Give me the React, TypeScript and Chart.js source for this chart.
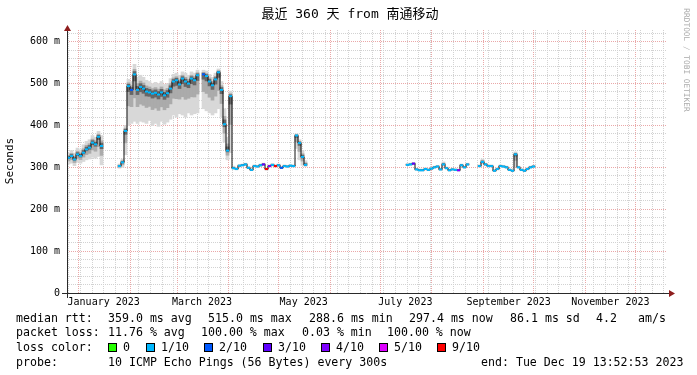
import React, { useEffect, useRef } from 'react';
import { Chart, registerables } from 'chart.js';

Chart.register(...registerables);

// ---------------- data ----------------
const STEP_DAYS = 1.8; // one sample every 1.8 days (3 px)
const SPAN_DAYS = 360;
const Y_MAX_MS = 628;

// median RTT (ms) per step, null = no data (100% loss)
const medianMs: (number | null)[] = [
  323, 327, 319, 331, 327, 335, 343, 347, 359, 355, 373, 351,
  null, null, null, null, null,
  303, 312, 387, 494, 485, 522, 485, 492, 488, 481, 479, 476, 478, 474, 479, 472, 477, 488, 505, 508, 498, 512, 505, 500, 512, 508, 520,
  null,
  522, 518, 505, 496, 510, 527, 485, 403, 340, 470, 298,
  296, 304, 305, 307, 299, 294, 303, 302, 305, 307, 296, 303, 306, 303, 305, 299, 303, 302, 304, 303, 376, 358, 325, 306,
  null, null, null, null, null, null, null, null, null, null, null, null, null, null, null, null, null, null, null, null, null, null, null, null, null, null, null, null, null, null, null, null, null,
  306, 307, 309, 295, 293, 293, 296, 294, 297, 300, 302, 295, 307, 298, 293, 295, 294, 293, 305, 300, 307,
  null, null, null,
  303, 313, 307, 303, 303, 292, 296, 303, 302, 300, 294, 292, 331, 300, 294, 292, 296, 300, 302,
  null, null, null, null, null, null, null, null, null, null, null, null, null, null, null, null, null, null, null, null, null, null,
  null, null, null, null, null, null, null, null, null, null, null, null, null, null, null, null, null, null, null, null, null, null,
];

// fastest ping of the smoke (ms)
const smokeLoMs: (number | null)[] = [
  308, 310, 304, 312, 310, 314, 318, 320, 324, 322, 326, 306,
  null, null, null, null, null,
  298, 300, 330, 400, 405, 410, 405, 410, 408, 405, 412, 400, 405, 398, 410, 403, 408, 415, 425, 420, 428, 425, 420, 430, 425, 428, 430,
  null,
  440, 435, 430, 425, 430, 440, 420, 360, 318, 335, 295,
  294, 301, 303, 304, 297, 292, 301, 300, 302, 304, 293, 301, 303, 301, 303, 297, 301, 300, 302, 301, 345, 318, 305, 302,
  null, null, null, null, null, null, null, null, null, null, null, null, null, null, null, null, null, null, null, null, null, null, null, null, null, null, null, null, null, null, null, null, null,
  304, 305, 306, 293, 291, 291, 294, 292, 295, 298, 300, 293, 303, 296, 291, 293, 292, 291, 302, 298, 304,
  null, null, null,
  301, 308, 304, 301, 301, 290, 294, 301, 300, 298, 292, 290, 302, 298, 292, 290, 294, 298, 300,
  null, null, null, null, null, null, null, null, null, null, null, null, null, null, null, null, null, null, null, null, null, null,
  null, null, null, null, null, null, null, null, null, null, null, null, null, null, null, null, null, null, null, null, null, null,
];

// slowest ping of the smoke (ms)
const smokeHiMs: (number | null)[] = [
  334, 340, 334, 346, 342, 354, 362, 366, 376, 372, 386, 376,
  null, null, null, null, null,
  308, 320, 400, 510, 505, 546, 515, 520, 515, 508, 505, 500, 503, 500, 505, 498, 500, 512, 522, 525, 520, 528, 525, 520, 528, 525, 532,
  null,
  532, 530, 522, 515, 525, 535, 505, 440, 372, 482, 303,
  300, 307, 308, 310, 302, 297, 306, 305, 308, 310, 299, 306, 309, 306, 308, 302, 306, 305, 307, 306, 380, 366, 340, 316,
  null, null, null, null, null, null, null, null, null, null, null, null, null, null, null, null, null, null, null, null, null, null, null, null, null, null, null, null, null, null, null, null, null,
  309, 310, 312, 298, 296, 296, 299, 297, 300, 303, 305, 298, 313, 301, 296, 298, 297, 296, 308, 303, 310,
  null, null, null,
  306, 320, 310, 306, 306, 295, 299, 306, 305, 303, 297, 295, 337, 303, 297, 295, 299, 303, 305,
  null, null, null, null, null, null, null, null, null, null, null, null, null, null, null, null, null, null, null, null, null, null,
  null, null, null, null, null, null, null, null, null, null, null, null, null, null, null, null, null, null, null, null, null, null,
];

// steps whose loss differs from the usual 1/10
const lossIdx = [21, 45, 65, 66, 67, 69, 71, 115, 130];
const lossLevel = [2, 2, 3, 9, 4, 9, 2, 3, 4];
const DEFAULT_LOSS = 1;

const lossLegendLabels = ['0', '1/10', '2/10', '3/10', '4/10', '5/10', '9/10'];
const lossLegendLevels = [0, 1, 2, 3, 4, 5, 9];
const LOSS_COLORS: Record<number, string> = {
  0: '#26ff00', 1: '#00b8ff', 2: '#0059ff', 3: '#5e00ff', 4: '#7e00ff', 5: '#dd00ff', 9: '#ff0000',
};

// time axis (days since graph start, Dec 24 2022)
const JAN1_DAY = 7.0;
const FIRST_MONDAY_DAY = 8.0; // Jan 2 2023
const monthLengths2023 = [31, 28, 31, 30, 31, 30, 31, 31, 30, 31, 30, 31];
const labelMonthIdx = [0, 2, 4, 6, 8, 10];
const monthLabels = ['January 2023', 'March 2023', 'May 2023', 'July 2023', 'September 2023', 'November 2023'];

const Y_MINOR_MS = 20;
const Y_MAJOR_MS = 100;

const TITLE = '最近 360 天 from 南通移动';
const Y_TITLE = 'Seconds';
const WATERMARK = 'RRDTOOL / TOBI OETIKER';
const rowLabels = ['median rtt:', 'packet loss:', 'loss color:', 'probe:'];
const medianItems = ['359.0 ms avg', '515.0 ms max', '288.6 ms min', '297.4 ms now', '86.1 ms sd', '4.2', 'am/s'];
const lossItems = ['11.76 % avg', '100.00 % max', '0.03 % min', '100.00 % now'];
const probeText = '10 ICMP Echo Pings (56 Bytes) every 300s';
const endText = 'end: Tue Dec 19 13:52:53 2023';

// ---------------- layout constants ----------------
const W = 697;
const H = 375;
const MONO = '"DejaVu Sans Mono", monospace';
const MINOR_GRID = '#d2d2d2';
const MAJOR_GRID = '#eaa8a8';
const AXIS_COLOR = '#2a2a2a';
const ARROW_COLOR = '#8e1d1d';
const medianItemX = [108, 208, 309, 409, 510, 596, 638];
const lossItemX = [108, 201, 302, 387];
const swatchX = [108, 146, 204, 263, 321, 379, 437];
const rowY = [318.5, 333, 348, 362.5];

// ---------------- tick tables ----------------
type XTick = { value: number; kind: 'minor' | 'major' | 'label'; label: string };
const xTicks: XTick[] = (() => {
  const t: XTick[] = [];
  for (let d = FIRST_MONDAY_DAY - 7; d <= SPAN_DAYS; d += 7) if (d >= 0) t.push({ value: d, kind: 'minor', label: '' });
  const starts: number[] = [];
  let acc = JAN1_DAY;
  monthLengths2023.forEach((len) => { starts.push(acc); t.push({ value: acc, kind: 'major', label: '' }); acc += len; });
  labelMonthIdx.forEach((m, k) => t.push({ value: starts[m] + 15, kind: 'label', label: monthLabels[k] }));
  t.sort((a, b) => a.value - b.value);
  return t;
})();

const yTicks: number[] = [];
for (let v = 0; v < Y_MAX_MS; v += Y_MINOR_MS) yTicks.push(v);

const lossAt = (i: number) => {
  const k = lossIdx.indexOf(i);
  return k >= 0 ? lossLevel[k] : DEFAULT_LOSS;
};

const xOf = (i: number) => (i + 0.5) * STEP_DAYS;

const decorPlugin = {
  id: 'rrdDecor',
  afterDraw(chart: any) {
    const ctx: CanvasRenderingContext2D = chart.ctx;
    const { left, right, top, bottom } = chart.chartArea;
    ctx.save();
    // axes
    ctx.strokeStyle = AXIS_COLOR;
    ctx.lineWidth = 1;
    ctx.beginPath();
    ctx.moveTo(left - 5, bottom + 0.5);
    ctx.lineTo(right + 4, bottom + 0.5);
    ctx.moveTo(left + 0.5, bottom + 5);
    ctx.lineTo(left + 0.5, top - 2);
    ctx.stroke();
    ctx.fillStyle = ARROW_COLOR;
    ctx.beginPath();
    ctx.moveTo(left + 0.5, top - 5);
    ctx.lineTo(left - 3, top + 1);
    ctx.lineTo(left + 4, top + 1);
    ctx.closePath();
    ctx.fill();
    ctx.beginPath();
    ctx.moveTo(right + 8, bottom + 0.5);
    ctx.lineTo(right + 2, bottom - 3);
    ctx.lineTo(right + 2, bottom + 4);
    ctx.closePath();
    ctx.fill();

    // title
    ctx.fillStyle = '#000';
    ctx.textBaseline = 'middle';
    ctx.textAlign = 'center';
    ctx.font = `13px "DejaVu Sans Mono", "Noto Sans CJK SC", monospace`;
    ctx.fillText(TITLE, 350, 15);

    // y title
    ctx.save();
    ctx.translate(10, 161);
    ctx.rotate(-Math.PI / 2);
    ctx.font = `11px ${MONO}`;
    ctx.fillText(Y_TITLE, 0, 0);
    ctx.restore();

    // watermark
    ctx.save();
    ctx.translate(686, 60);
    ctx.rotate(Math.PI / 2);
    ctx.fillStyle = '#aaaaaa';
    ctx.font = `7.8px ${MONO}`;
    ctx.fillText(WATERMARK, 0, 0);
    ctx.restore();

    // legend
    ctx.textAlign = 'left';
    ctx.font = `11.6px ${MONO}`;
    ctx.fillStyle = '#000';
    rowLabels.forEach((l, r) => ctx.fillText(l, 16, rowY[r]));
    medianItems.forEach((s, k) => ctx.fillText(s, medianItemX[k], rowY[0]));
    lossItems.forEach((s, k) => ctx.fillText(s, lossItemX[k], rowY[1]));
    lossLegendLabels.forEach((s, k) => {
      const x = swatchX[k];
      ctx.fillStyle = LOSS_COLORS[lossLegendLevels[k]];
      ctx.fillRect(x + 0.5, rowY[2] - 4.5, 8, 8);
      ctx.strokeStyle = '#000';
      ctx.strokeRect(x + 0.5, rowY[2] - 4.5, 8, 8);
      ctx.fillStyle = '#000';
      ctx.fillText(s, x + 15, rowY[2]);
    });
    ctx.fillText(probeText, 108, rowY[3]);
    ctx.fillText(endText, 481, rowY[3]);
    ctx.restore();
  },
};

export default function App() {
  const ref = useRef<HTMLCanvasElement | null>(null);

  useEffect(() => {
    document.body.style.margin = '0';
    const canvas = ref.current;
    if (!canvas) return;

    const linePts = medianMs.map((v, i) => ({ x: xOf(i), y: v }));
    const band = (f: (lo: number, med: number, hi: number) => [number, number]) =>
      medianMs
        .map((m, i) => {
          const lo = smokeLoMs[i];
          const hi = smokeHiMs[i];
          if (m == null || lo == null || hi == null) return null;
          return { x: xOf(i), y: f(lo, m, hi) };
        })
        .filter((p) => p !== null);

    const barCommon = {
      type: 'bar' as const,
      grouped: false,
      barThickness: 3,
      categoryPercentage: 1,
      barPercentage: 1,
      borderWidth: 0,
      borderSkipped: false,
    };

    const chart = new Chart(canvas, {
      type: 'bar',
      data: {
        datasets: [
          {
            type: 'line',
            data: linePts,
            showLine: false,
            pointStyle: 'line',
            pointRadius: 1.5,
            pointBorderWidth: 2,
            pointBorderColor: medianMs.map((_, i) => LOSS_COLORS[lossAt(i)]),
            pointBackgroundColor: medianMs.map((_, i) => LOSS_COLORS[lossAt(i)]),
            order: 0,
          } as any,
          {
            type: 'line',
            data: linePts,
            borderColor: '#111',
            borderWidth: 1,
            stepped: 'middle',
            pointRadius: 0,
            spanGaps: false,
            fill: false,
            order: 1,
          } as any,
          {
            ...barCommon,
            data: band((lo, m, hi) => [m - (m - lo) * 0.14, m + (hi - m) * 0.28]),
            backgroundColor: '#666666',
            order: 2,
          } as any,
          {
            ...barCommon,
            data: band((lo, m, hi) => [(lo + m) / 2, (hi + m) / 2]),
            backgroundColor: '#ababab',
            order: 3,
          } as any,
          {
            ...barCommon,
            data: band((lo, _m, hi) => [lo, hi]),
            backgroundColor: '#d8d8d8',
            order: 4,
          } as any,
        ],
      },
      options: {
        responsive: false,
        animation: false,
        devicePixelRatio: 1,
        events: [],
        layout: { padding: { top: 30, right: 30, left: 0, bottom: 0 } },
        plugins: { legend: { display: false }, tooltip: { enabled: false }, title: { display: false } },
        scales: {
          x: {
            type: 'linear',
            min: 0,
            max: SPAN_DAYS,
            offset: false,
            afterFit: (s: any) => { s.height = 82; },
            afterBuildTicks: (s: any) => { s.ticks = xTicks.map((t) => ({ value: t.value })); },
            grid: {
              offset: false,
              drawTicks: false,
              lineWidth: 1,
              color: (c: any) => {
                const t = xTicks[c.index];
                if (!t) return 'rgba(0,0,0,0)';
                return t.kind === 'major' ? MAJOR_GRID : t.kind === 'minor' ? MINOR_GRID : 'rgba(0,0,0,0)';
              },
            },
            border: { display: false, dash: [1, 1] },
            ticks: {
              autoSkip: false,
              maxRotation: 0,
              minRotation: 0,
              padding: 3,
              color: '#000',
              font: { family: MONO, size: 10 },
              callback: (_v: any, i: number) => (xTicks[i] ? xTicks[i].label : ''),
            },
          },
          y: {
            type: 'linear',
            min: 0,
            max: Y_MAX_MS,
            afterFit: (s: any) => { s.width = 67; },
            afterBuildTicks: (s: any) => { s.ticks = yTicks.map((v) => ({ value: v })); },
            grid: {
              drawTicks: false,
              lineWidth: 1,
              color: (c: any) => {
                const v = c.tick ? c.tick.value : 0;
                if (v === 0) return 'rgba(0,0,0,0)';
                return v % Y_MAJOR_MS === 0 ? MAJOR_GRID : MINOR_GRID;
              },
            },
            border: { display: false, dash: [1, 1] },
            ticks: {
              autoSkip: false,
              padding: 7,
              color: '#000',
              font: { family: MONO, size: 10 },
              callback: (v: any) => {
                const n = Number(v);
                if (n % Y_MAJOR_MS !== 0) return '';
                return n === 0 ? '0' : `${n} m`;
              },
            },
          },
        },
      } as any,
      plugins: [decorPlugin],
    });

    return () => chart.destroy();
  }, []);

  return (
    <div style={{ width: W, height: H, background: '#fff' }}>
      <canvas ref={ref} width={W} height={H} style={{ display: 'block', width: W, height: H }} />
    </div>
  );
}
